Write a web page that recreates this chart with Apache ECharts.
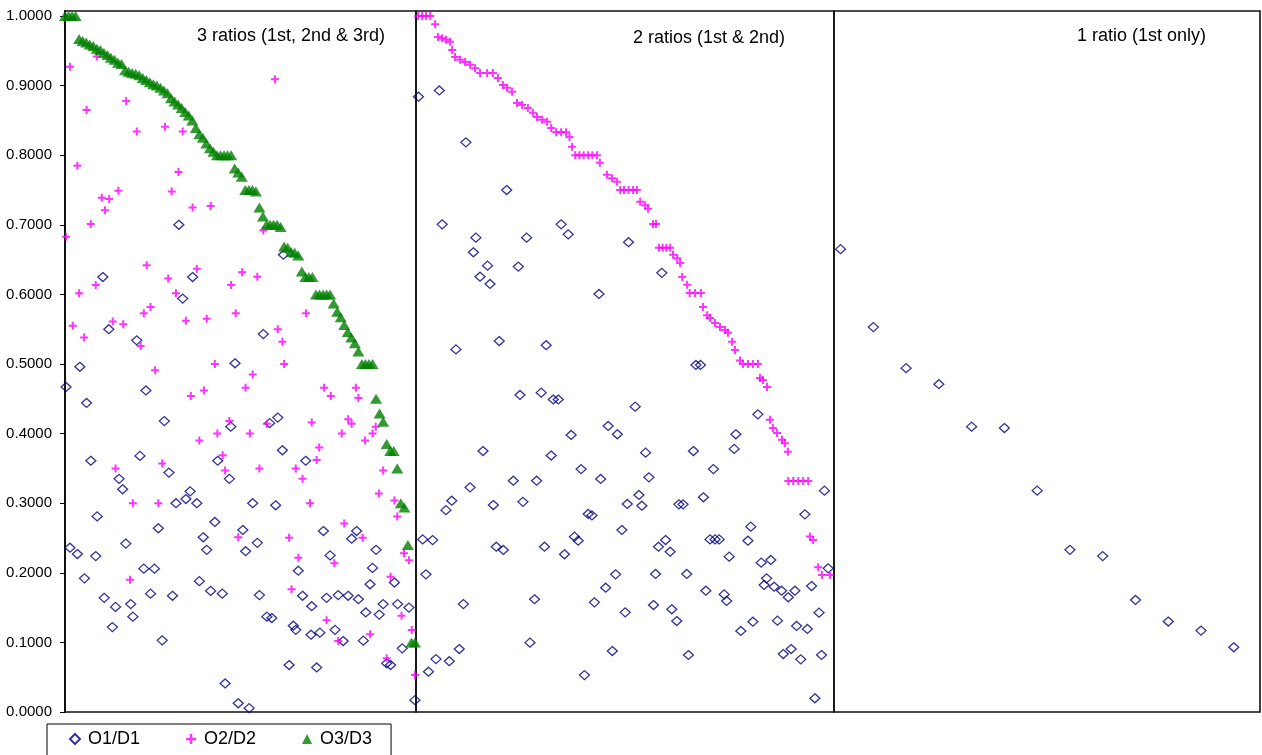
<!DOCTYPE html>
<html><head><meta charset="utf-8">
<script src="https://cdn.jsdelivr.net/npm/echarts@6/dist/echarts.min.js"></script>
<style>html,body{margin:0;padding:0;background:#fff}#c{width:1262px;height:755px}</style>
</head><body><div id="c"></div>
<script>
// ---- data (x = case position within its panel, y = ratio) ----
const seriesNames = ['O1/D1', 'O2/D2', 'O3/D3'];
const panelTitles = ['3 ratios (1st, 2nd & 3rd)', '2 ratios (1st & 2nd)', '1 ratio (1st only)'];
const yTicks = [0, 0.1, 0.2, 0.3, 0.4, 0.5, 0.6, 0.7, 0.8, 0.9, 1.0];

// Panel 1: cases with 3 ratios (sorted by O3/D3)
const p1O3 = [1.0,1.0,1.0,1.0,0.967,0.964,0.962,0.959,0.957,0.953,
 0.951,0.947,0.944,0.940,0.937,0.933,0.931,0.922,0.920,0.918,
 0.917,0.915,0.911,0.908,0.905,0.902,0.900,0.897,0.893,0.889,
 0.882,0.877,0.873,0.868,0.862,0.857,0.850,0.839,0.830,0.825,
 0.817,0.810,0.805,0.800,0.800,0.800,0.800,0.800,0.781,0.775,
 0.769,0.750,0.750,0.750,0.748,0.725,0.712,0.700,0.700,0.700,
 0.700,0.697,0.669,0.667,0.661,0.660,0.656,0.633,0.625,0.625,
 0.625,0.600,0.600,0.600,0.600,0.600,0.587,0.575,0.567,0.556,
 0.546,0.538,0.530,0.518,0.500,0.500,0.500,0.500,0.450,0.429,
 0.417,0.385,0.375,0.375,0.350,0.300,0.294,0.240,0.100,0.100];

const p1O2 = [[1.4,0.927],[9.0,0.942],[6.1,0.865],[17.3,0.878],[3.5,0.785],[20.3,0.834],[28.3,0.841],[33.3,0.834],
 [32.1,0.776],[30.2,0.748],[15.1,0.749],[10.4,0.739],[12.5,0.737],[11.3,0.721],[7.3,0.701],[0.3,0.683],
 [36.1,0.725],[41.2,0.727],[23.1,0.642],[29.2,0.623],[37.3,0.637],[47.0,0.6135],[8.7,0.6135],[4.0,0.6015],
 [31.4,0.6015],[2.2,0.555],[5.4,0.538],[13.5,0.561],[16.5,0.557],[22.3,0.573],[24.2,0.582],[34.2,0.562],
 [40.1,0.565],[48.3,0.573],[21.4,0.526],[50.1,0.632],[59.4,0.909],[56.1,0.692],[54.4,0.6255],[68.2,0.573],
 [60.2,0.550],[61.5,0.532],[25.5,0.491],[42.4,0.500],[39.3,0.462],[35.6,0.454],[46.5,0.418],[38.0,0.390],
 [43.1,0.400],[44.6,0.369],[27.5,0.357],[45.3,0.347],[14.3,0.350],[19.2,0.300],[26.4,0.300],[18.4,0.190],
 [49.0,0.251],[62.0,0.500],[53.1,0.485],[51.1,0.466],[73.3,0.466],[75.2,0.454],[82.3,0.466],[83.0,0.451],
 [69.8,0.416],[57.1,0.414],[52.3,0.400],[80.1,0.4205],[81.1,0.414],[78.3,0.400],[87.9,0.410],[87.0,0.400],
 [84.9,0.390],[71.9,0.380],[71.2,0.362],[55.0,0.350],[65.3,0.350],[67.2,0.335],[90.0,0.347],[88.8,0.314],
 [69.3,0.300],[93.2,0.304],[94.0,0.281],[79.0,0.271],[63.4,0.2505],[84.2,0.2505],[95.9,0.228],[97.3,0.218],
 [66.0,0.2217],[76.2,0.2136],[92.1,0.1944],[64.1,0.1763],[95.2,0.1384],[98.1,0.1178],[74.0,0.132],[86.3,0.1116],
 [77.3,0.102],[91.0,0.0772],[99.0,0.053]];

const p1O1 = [[32.2,0.700],[10.7,0.625],[36.1,0.625],[33.3,0.594],[12.4,0.550],[20.3,0.534],[61.8,0.657],[56.1,0.543],
 [4.2,0.496],[0.3,0.467],[6.1,0.444],[22.9,0.462],[48.1,0.501],[28.1,0.418],[46.9,0.410],[7.3,0.361],
 [21.2,0.368],[43.2,0.361],[15.3,0.335],[29.4,0.344],[46.5,0.335],[16.3,0.320],[35.4,0.317],[31.4,0.300],
 [34.2,0.306],[37.3,0.300],[9.1,0.281],[26.4,0.264],[42.4,0.273],[1.4,0.236],[3.5,0.227],[17.2,0.242],
 [39.1,0.251],[40.1,0.233],[8.7,0.224],[5.5,0.192],[22.3,0.206],[25.3,0.206],[38.0,0.188],[41.2,0.174],
 [44.5,0.170],[24.2,0.170],[30.4,0.167],[11.1,0.164],[14.3,0.151],[18.6,0.155],[19.2,0.137],[13.4,0.122],
 [27.5,0.103],[45.3,0.041],[49.0,0.0125],[52.1,0.0055],[60.2,0.423],[57.9,0.415],[61.5,0.376],[68.1,0.361],
 [53.1,0.300],[59.6,0.297],[50.3,0.2615],[73.1,0.260],[82.5,0.260],[81.1,0.249],[54.4,0.243],[51.1,0.231],
 [75.0,0.225],[88.0,0.233],[66.0,0.203],[87.0,0.207],[86.3,0.1835],[93.2,0.186],[55.0,0.168],[67.2,0.167],
 [74.0,0.164],[77.3,0.168],[80.1,0.167],[83.0,0.162],[90.0,0.155],[94.1,0.155],[97.3,0.150],[69.8,0.152],
 [85.1,0.143],[88.9,0.140],[57.1,0.137],[58.5,0.135],[64.6,0.124],[65.3,0.118],[69.6,0.111],[72.1,0.114],
 [76.4,0.118],[78.7,0.102],[84.4,0.1025],[95.4,0.0915],[63.4,0.0675],[71.2,0.064],[91.0,0.070],[92.1,0.0675],
 [99.0,0.017]];

// Panel 2: cases with 2 ratios (sorted by O2/D2)
const p2O2 = [[0,1.0],[1,1.0],[1.9,1.0],[2.9,1.0],[4.1,0.988],[4.8,0.970],[5.8,0.968],[6.7,0.966],[7.7,0.963],[8.2,0.951],
 [8.9,0.941],[10.1,0.937],[11.3,0.934],[12.5,0.930],[13.7,0.925],[14.9,0.918],[16.6,0.918],[18.0,0.918],[19.2,0.911],[20.4,0.901],
 [21.4,0.897],[22.6,0.891],[23.8,0.875],[25.0,0.872],[26.4,0.868],[27.6,0.861],[28.6,0.855],[29.8,0.851],[31.0,0.848],[32.0,0.839],
 [33.2,0.833],[34.4,0.833],[35.6,0.833],[36.4,0.826],[37.0,0.812],[37.8,0.800],[38.8,0.800],[39.8,0.800],[40.9,0.800],[41.9,0.800],
 [43.0,0.800],[43.7,0.789],[45.4,0.772],[46.6,0.767],[47.8,0.762],[48.6,0.750],[49.5,0.750],[50.6,0.750],[51.7,0.750],[52.6,0.750],
 [53.4,0.733],[54.6,0.728],[55.3,0.723],[56.5,0.701],[57.2,0.701],[57.9,0.667],[58.8,0.667],[59.7,0.667],[60.6,0.667],[61.3,0.657],
 [62.3,0.652],[63.0,0.645],[63.5,0.625],[64.7,0.614],[65.3,0.602],[66.6,0.602],[68.0,0.602],[68.5,0.582],[69.5,0.570],[70.2,0.566],
 [71.4,0.559],[72.6,0.553],[73.8,0.549],[74.5,0.545],[75.5,0.532],[76.2,0.520],[77.4,0.505],[78.1,0.500],[79.3,0.500],[80.5,0.500],
 [81.7,0.500],[82.2,0.480],[82.9,0.477],[83.9,0.467],[84.6,0.420],[85.3,0.408],[86.3,0.401],[87.5,0.391],[88.2,0.386],[88.9,0.374],
 [89.0,0.332],[90.2,0.332],[91.4,0.332],[92.6,0.332],[93.8,0.332],[94.2,0.252],[95.0,0.247],[96.2,0.208],[97.1,0.197],[99.0,0.197]];

const p2O1 = [[0.1,0.884],[5.1,0.893],[11.5,0.8185],[21.3,0.750],[5.8,0.7007],[13.9,0.6815],[13.3,0.6605],[16.7,0.6413],[14.9,0.6254],[17.3,0.615],
 [24.1,0.640],[26.1,0.6815],[34.4,0.7007],[36.1,0.6863],[43.5,0.6006],[50.6,0.675],[9.1,0.521],[19.5,0.533],[30.8,0.527],[58.6,0.631],
 [24.5,0.4555],[29.6,0.4588],[32.5,0.449],[33.7,0.449],[36.8,0.398],[45.7,0.411],[47.9,0.399],[15.6,0.375],[32.0,0.3685],[39.2,0.349],
 [43.9,0.3348],[22.9,0.3323],[28.5,0.3323],[12.5,0.3228],[8.1,0.3036],[6.7,0.290],[18.1,0.2974],[25.2,0.302],[40.9,0.2845],[41.8,0.2825],
 [50.3,0.2989],[49.0,0.2615],[1.1,0.248],[3.5,0.247],[18.8,0.2375],[20.5,0.2328],[30.4,0.2375],[37.6,0.2519],[38.5,0.2461],[35.2,0.2266],
 [1.9,0.1978],[47.5,0.1978],[45.1,0.1786],[42.4,0.1576],[10.9,0.155],[28.0,0.162],[49.8,0.1432],[9.9,0.0905],[4.3,0.076],[7.5,0.073],
 [2.5,0.0579],[26.9,0.0996],[46.7,0.0876],[40.0,0.053],[66.8,0.4986],[67.9,0.4986],[52.2,0.4387],[54.7,0.3726],[66.2,0.375],[71.0,0.349],
 [76.0,0.378],[76.4,0.399],[81.7,0.4277],[55.5,0.3372],[53.1,0.3118],[53.8,0.2964],[62.7,0.2984],[63.7,0.2984],[68.6,0.3085],
 [57.8,0.2375],[59.5,0.2471],[60.6,0.2303],[70.2,0.248],[71.4,0.248],[72.4,0.248],[74.8,0.2232],[80.0,0.2663],[79.3,0.2461],[82.5,0.2146],
 [84.8,0.2184],[83.8,0.192],[83.2,0.1825],[85.6,0.180],[87.4,0.1743],[89.0,0.1648],[90.6,0.1743],[94.6,0.181],[93.0,0.284],[97.7,0.318],
 [98.6,0.2064],[57.1,0.1983],[64.6,0.1983],[69.2,0.1743],[73.6,0.169],[74.2,0.1595],[56.6,0.1537],[61.0,0.1476],[62.2,0.1307],[77.6,0.1164],
 [80.5,0.1297],[86.4,0.1312],[91.0,0.1236],[93.6,0.1193],[96.4,0.1427],[65.0,0.0819],[87.8,0.0833],[89.7,0.0905],[92.0,0.0757],[97.0,0.0819],
 [95.4,0.0197]];

// Panel 3: cases with 1 ratio
const p3O1 = [0.665,0.553,0.494,0.471,0.410,0.408,0.318,0.233,0.224,0.161,0.130,0.117,0.093];

// ---- styles ----
const FONT = '"Liberation Sans", Arial, sans-serif';
const PLUS = 'path://M3,0H5V3H8V5H5V8H3V5H0V3H3Z';
const styleO1 = { symbol: 'diamond', symbolSize: [10, 9], itemStyle: { color: 'rgba(255,255,255,0)', borderColor: '#000080', borderWidth: 1.3 } };
const styleO2 = { symbol: PLUS, symbolSize: 8, itemStyle: { color: '#FF00FF' } };
const styleO3 = { symbol: 'triangle', symbolSize: [12, 10], itemStyle: { color: '#008000' } };

const chart = echarts.init(document.getElementById('c'), null, { renderer: 'canvas' });

const gridBase = { top: 11, height: 701, show: true, borderColor: '#111', borderWidth: 1.6, backgroundColor: 'transparent' };
const yMax = 1.0072;

function yAx(i, visible) {
  return {
    gridIndex: i, type: 'value', min: 0, max: yMax, interval: 0.1,
    show: visible,
    axisLine: { show: visible, lineStyle: { color: '#111', width: 2 } },
    splitLine: { show: false },
    axisTick: { show: visible, length: 5, lineStyle: { color: '#000', width: 1 }, customValues: yTicks },
    axisLabel: { show: visible, customValues: yTicks, formatter: v => v.toFixed(4), margin: 13,
      fontSize: 15, color: '#000', fontFamily: FONT }
  };
}

function sc(name, style, xi, data, z) {
  return Object.assign({ name, type: 'scatter', xAxisIndex: xi, yAxisIndex: xi, data, z, silent: true, animation: false }, style);
}

chart.setOption({
  backgroundColor: '#fff',
  animation: false,
  grid: [
    Object.assign({ left: 65, width: 351 }, gridBase),
    Object.assign({ left: 416, width: 418 }, gridBase),
    Object.assign({ left: 834, width: 426 }, gridBase)
  ],
  xAxis: [
    { gridIndex: 0, type: 'value', min: 0, max: 99.3, show: false },
    { gridIndex: 1, type: 'value', min: -0.5, max: 100, show: false },
    { gridIndex: 2, type: 'value', min: -0.2, max: 12.8, show: false }
  ],
  yAxis: [yAx(0, true), yAx(1, false), yAx(2, false)],
  legend: {
    data: seriesNames, left: 47, top: 724, orient: 'horizontal',
    padding: [6, 19, 12, 22], itemGap: 46, itemWidth: 10, itemHeight: 10,
    backgroundColor: '#fff', borderColor: '#000', borderWidth: 1, borderRadius: 0,
    selectedMode: false,
    textStyle: { fontSize: 18, color: '#000', fontFamily: FONT, padding: [0, 0, 0, 3] }
  },
  graphic: [
    { type: 'text', left: 292 - 95, top: 27, style: { text: panelTitles[0], font: '18px ' + FONT, fill: '#000' } },
    { type: 'text', left: 709 - 76, top: 29, style: { text: panelTitles[1], font: '18px ' + FONT, fill: '#000' } },
    { type: 'text', left: 1142 - 65, top: 27, style: { text: panelTitles[2], font: '18px ' + FONT, fill: '#000' } }
  ],
  series: [
    sc(seriesNames[0], styleO1, 0, p1O1, 2),
    sc(seriesNames[1], styleO2, 0, p1O2, 3),
    sc(seriesNames[2], styleO3, 0, p1O3.map((v, i) => [i, v]), 4),
    sc(seriesNames[0], styleO1, 1, p2O1, 2),
    sc(seriesNames[1], styleO2, 1, p2O2, 3),
    sc(seriesNames[0], styleO1, 2, p3O1.map((v, i) => [i, v]), 2)
  ]
});
</script></body></html>
